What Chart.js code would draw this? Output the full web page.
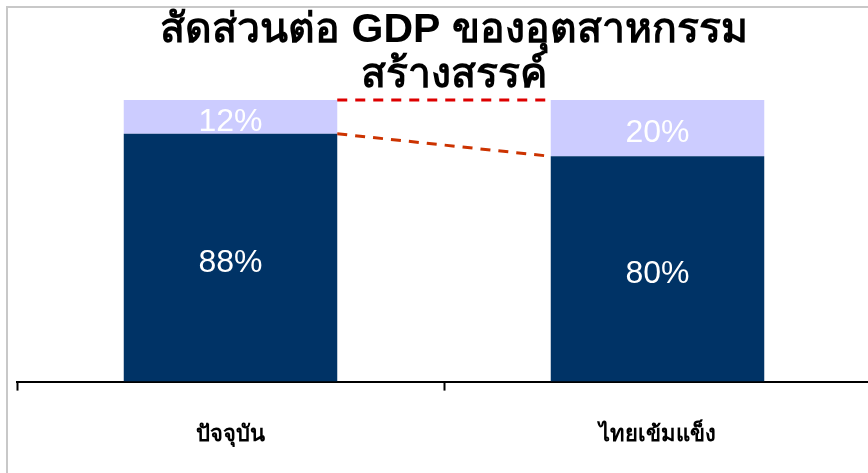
<!DOCTYPE html>
<html>
<head>
<meta charset="utf-8">
<script src="https://cdn.jsdelivr.net/npm/chart.js@4"></script>
<style>
  html, body { margin: 0; padding: 0; background: #fff; overflow: hidden; width: 868px; height: 473px; }
  #frame { position: absolute; left: 6px; top: 6px; width: 900px; height: 500px;
           border-left: 2px solid #c8c8c8; border-top: 2px solid #c8c8c8; }
  #wrap { position: absolute; left: 0; top: 0; width: 871px; height: 483px; }
</style>
</head>
<body>
<div id="frame"></div>
<div id="wrap"><canvas id="chart"></canvas></div>
<script>
const categories = ['ปัจจุบัน', 'ไทยเข้มแข็ง'];
const baseShare = [88, 80];
const creativeShare = [12, 20];
const titleLines = ['สัดส่วนต่อ GDP ของอุตสาหกรรม', 'สร้างสรรค์'];

// two line title, centred a bit right of the plot centre like the original
const titleText = {
    id: 'titleText',
    afterDraw(chart) {
        const ctx = chart.ctx;
        ctx.save();
        ctx.fillStyle = '#000';
        ctx.font = 'bold 41px "Liberation Sans", Arial, sans-serif';
        ctx.textAlign = 'center';
        ctx.textBaseline = 'middle';
        ctx.fillText(titleLines[0], 454, 31);
        ctx.fillText(titleLines[1], 454, 76);
        ctx.restore();
    }
};

// labels in the middle of each segment
const segmentLabels = {
    id: 'segmentLabels',
    afterDatasetsDraw(chart) {
        const ctx = chart.ctx;
        ctx.save();
        ctx.fillStyle = '#ffffff';
        ctx.font = '32px "Liberation Sans", Arial, sans-serif';
        ctx.textAlign = 'center';
        ctx.textBaseline = 'middle';
        chart.data.datasets.forEach((ds, i) => {
            chart.getDatasetMeta(i).data.forEach((bar, j) => {
                const y = (bar.y + bar.base) / 2;
                ctx.fillText(ds.data[j] + '%', bar.x, y + 5);
            });
        });
        ctx.restore();
    }
};

// dashed series lines between the two bars
const seriesLines = {
    id: 'seriesLines',
    afterDatasetsDraw(chart) {
        const ctx = chart.ctx;
        const colors = ['#cc3300', '#dd0000'];
        ctx.save();
        ctx.lineWidth = 3;
        ctx.setLineDash([10, 8]);
        chart.data.datasets.forEach((ds, i) => {
            const bars = chart.getDatasetMeta(i).data;
            const a = bars[0], b = bars[1];
            ctx.strokeStyle = colors[i];
            ctx.beginPath();
            ctx.moveTo(a.x + a.width / 2, a.y);
            ctx.lineTo(b.x - b.width / 2, b.y);
            ctx.stroke();
        });
        ctx.restore();
    }
};

new Chart(document.getElementById('chart'), {
    type: 'bar',
    data: {
        labels: categories,
        datasets: [
            { label: 'base', data: baseShare, backgroundColor: '#003366',
              barPercentage: 1, categoryPercentage: 0.5 },
            { label: 'creative', data: creativeShare, backgroundColor: '#ccccff',
              barPercentage: 1, categoryPercentage: 0.5 }
        ]
    },
    options: {
        responsive: true,
        maintainAspectRatio: false,
        animation: false,
        layout: { padding: { left: 17, right: 0, top: 100, bottom: 4 } },
        plugins: {
            legend: { display: false },
            tooltip: { enabled: false },
            title: { display: false }
        },
        scales: {
            x: {
                stacked: true,
                grid: { offset: true, drawOnChartArea: false, drawTicks: true, tickLength: 9,
                        tickColor: '#000', tickWidth: 2 },
                border: { display: true, color: '#000', width: 2 },
                ticks: { color: '#000', padding: 31,
                         font: { family: '"Liberation Sans", Arial, sans-serif', size: 22, weight: 'bold' } }
            },
            y: { stacked: true, display: false, min: 0, max: 100 }
        }
    },
    plugins: [titleText, segmentLabels, seriesLines]
});
</script>
</body>
</html>
